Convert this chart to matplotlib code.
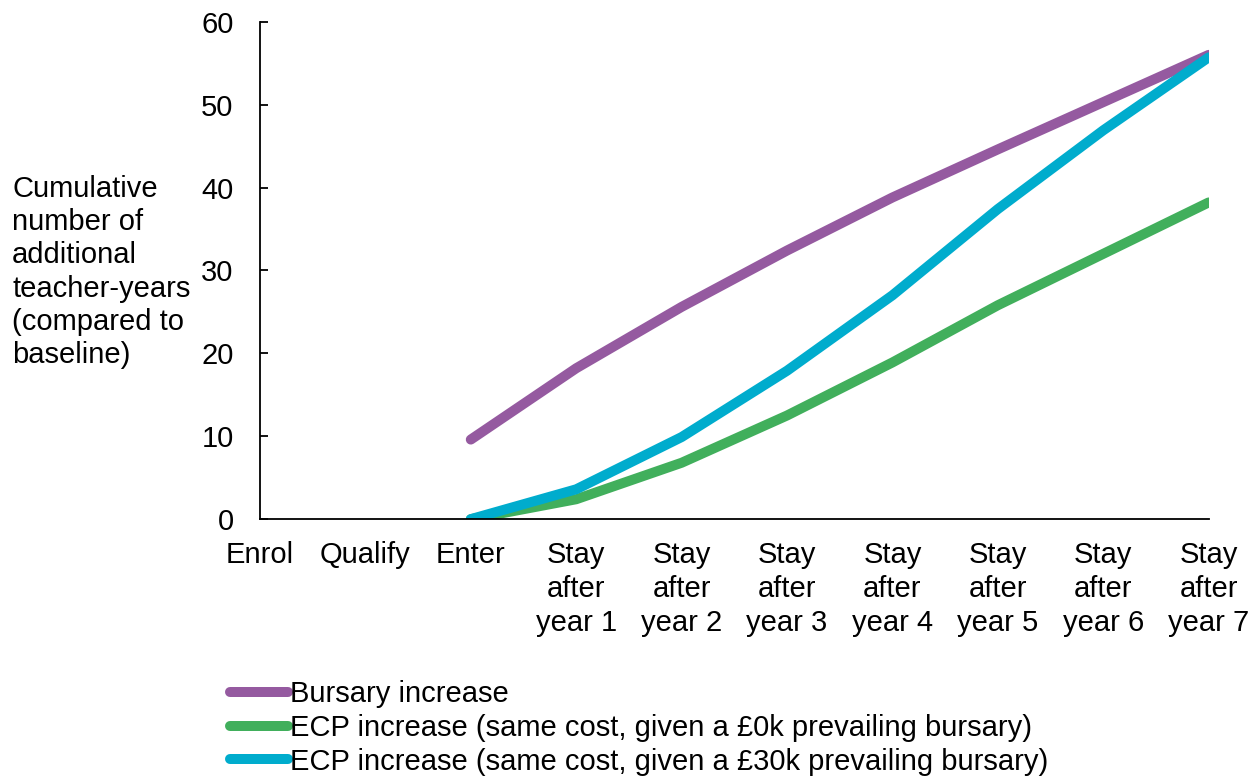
import matplotlib
matplotlib.use("Agg")
import matplotlib.pyplot as plt
import numpy as np

plt.rcParams['font.family'] = ['Liberation Sans', 'DejaVu Sans']

# Chart data
stages = ["Enrol", "Qualify", "Enter", "Stay\nafter\nyear 1", "Stay\nafter\nyear 2",
          "Stay\nafter\nyear 3", "Stay\nafter\nyear 4", "Stay\nafter\nyear 5",
          "Stay\nafter\nyear 6", "Stay\nafter\nyear 7"]
bursary = [np.nan, np.nan, 9.6, 18.2, 25.6, 32.4, 38.8, 44.6, 50.3, 56.0]
ecp_0k = [np.nan, np.nan, 0.0, 2.4, 6.8, 12.5, 18.9, 25.8, 32.0, 38.2]
ecp_30k = [np.nan, np.nan, 0.0, 3.6, 9.9, 17.9, 27.0, 37.4, 46.9, 55.7]

series_labels = ["Bursary increase",
                 "ECP increase (same cost, given a £0k prevailing bursary)",
                 "ECP increase (same cost, given a £30k prevailing bursary)"]
colors = ["#955AA0", "#41AF5C", "#00ACCD"]

FS = 21

fig = plt.figure(figsize=(12.59, 7.76), dpi=100)
ax = fig.add_axes([0.2065, 0.331, 0.7535, 0.641])

x = np.arange(len(stages))
for vals, lab, col in zip([bursary, ecp_0k, ecp_30k], series_labels, colors):
    ax.plot(x, vals, color=col, linewidth=7.2, solid_capstyle='round', label=lab)

ax.set_xlim(0, len(stages) - 1)
ax.set_ylim(0, 60)
ax.set_yticks(np.arange(0, 61, 10))
ax.set_xticks(x)
ax.set_xticklabels(stages, fontsize=FS, linespacing=1.26)
ax.tick_params(axis='x', length=0, pad=16)
ax.tick_params(axis='y', direction='in', length=6, width=1.3, labelsize=FS, pad=19)

for side in ['top', 'right']:
    ax.spines[side].set_visible(False)
ax.spines['left'].set_linewidth(1.3)
ax.spines['bottom'].set_linewidth(1.3)

fig.text(12 / 1259, 1 - 272 / 776,
         "Cumulative\nnumber of\nadditional\nteacher-years\n(compared to\nbaseline)",
         fontsize=FS, ha='left', va='center', linespacing=1.23)

fig.legend(loc='upper left', bbox_to_anchor=(230 / 1259, 1 - 680 / 776),
           frameon=False, fontsize=FS, handlelength=2.0, handletextpad=0.07,
           labelspacing=0.2, borderaxespad=0, borderpad=0)

fig.savefig("out.png", dpi=100)
